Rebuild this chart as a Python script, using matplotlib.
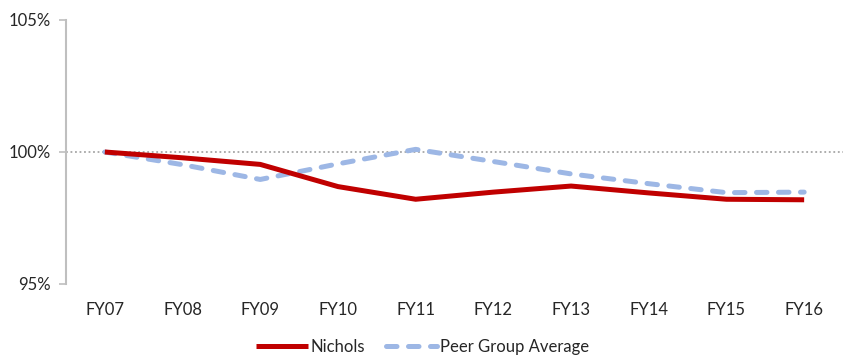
import matplotlib
matplotlib.use("Agg")
import matplotlib.pyplot as plt

categories = ["FY07", "FY08", "FY09", "FY10", "FY11", "FY12", "FY13", "FY14", "FY15", "FY16"]
nichols = [100.0, 99.78, 99.53, 98.69, 98.21, 98.48, 98.71, 98.45, 98.21, 98.19]
peer = [100.0, 99.52, 98.96, 99.55, 100.1, 99.64, 99.17, 98.8, 98.46, 98.48]
yticks = [95, 100, 105]
ytick_labels = ["95%", "100%", "105%"]

plt.rcParams['font.family'] = ['Lato', 'DejaVu Sans']

fig = plt.figure(figsize=(8.45, 3.57), dpi=100)
ax = fig.add_axes([66/845, 1-284/357, (843-66)/845, (284-20)/357])

x = list(range(len(categories)))
ax.axhline(100, color="#A6A6A6", lw=1.3, ls=(0, (1, 1.5)), zorder=1)
ax.plot(x, nichols, color="#C00000", lw=3.6, solid_capstyle="butt", solid_joinstyle="miter", label="Nichols", zorder=3)
ax.plot(x, peer, color="#9DB7E5", lw=3.6, ls=(0, (2.1, 2.3)), dash_capstyle="round", label="Peer Group Average", zorder=2)

ax.set_xlim(-0.5, len(categories) - 0.5)
ax.set_ylim(95, 105)
ax.set_yticks(yticks)
ax.set_yticklabels(ytick_labels)
ax.set_xticks(x)
ax.set_xticklabels(categories)

for s in ["top", "right", "bottom"]:
    ax.spines[s].set_visible(False)
ax.spines["left"].set_color("#BFBFBF")
ax.spines["left"].set_linewidth(1.5)
ax.tick_params(axis="y", direction="out", length=5, width=1.2, color="#BFBFBF", labelsize=12, pad=6, labelcolor="#262626")
ax.tick_params(axis="x", length=0, labelsize=12, pad=13, labelcolor="#262626")

leg = fig.legend(loc="center", bbox_to_anchor=(0.5, 1-347/357), ncol=2, frameon=False,
                 fontsize=12, handlelength=3.1, handletextpad=0.15, columnspacing=1.25)
for t in leg.get_texts():
    t.set_color("#262626")

fig.savefig("out.png", dpi=100)
